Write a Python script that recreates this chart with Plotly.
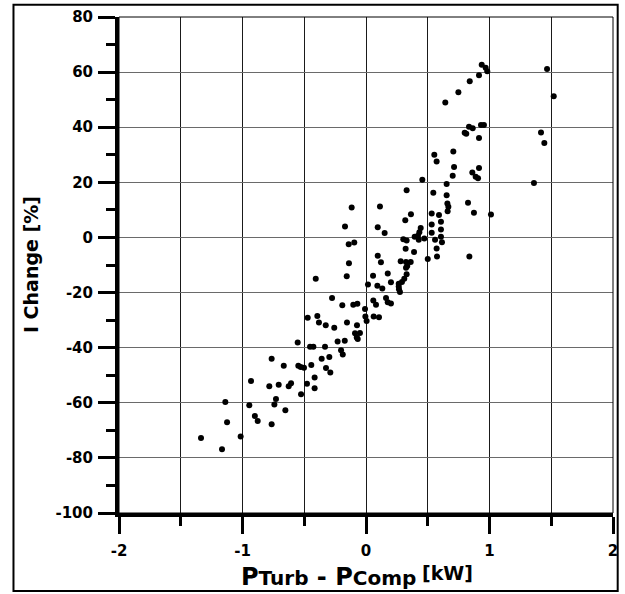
import plotly.graph_objects as go

# Power difference P_Turb - P_Comp [kW] and the corresponding I change [%]
p_diff_kw = [
    -1.336, -1.166, -1.139, -1.125, -1.015, -0.945, -0.931, -0.900, -0.877, -0.764,
    -0.783, -0.764, -0.742, -0.729, -0.707, -0.666, -0.653, -0.626, -0.607, -0.553,
    -0.548, -0.529, -0.502, -0.526, -0.478, -0.472, -0.453, -0.426, -0.443, -0.416,
    -0.416, -0.394, -0.381, -0.407, -0.359, -0.332, -0.326, -0.324, -0.297, -0.289,
    -0.275, -0.257, -0.230, -0.172, -0.202, -0.188, -0.192, -0.154, -0.156, -0.138,
    -0.170, -0.116, -0.095, -0.140, -0.103, -0.070, -0.073, -0.089, -0.049, -0.075,
    -0.067, -0.008, -0.005, 0.005, 0.016, 0.057, 0.059, 0.081, 0.062, 0.105,
    0.092, 0.132, 0.095, 0.121, 0.095, 0.151, 0.113, 0.162, 0.176, 0.202,
    0.176, 0.202, 0.265, 0.291, 0.310, 0.329, 0.265, 0.267, 0.275, 0.281,
    0.324, 0.362, 0.334, 0.324, 0.321, 0.389, 0.302, 0.329, 0.318, 0.364,
    0.329, 0.443, 0.432, 0.421, 0.394, 0.472, 0.427, 0.500, 0.456, 0.545,
    0.532, 0.591, 0.607, 0.532, 0.607, 0.532, 0.559, 0.607, 0.615, 0.572,
    0.575, 0.553, 0.572, 0.707, 0.713, 0.702, 0.653, 0.653, 0.659, 0.667,
    0.661, 0.826, 0.874, 1.012, 0.837, 0.861, 0.888, 0.907, 0.915, 0.834,
    0.864, 0.931, 0.955, 0.799, 0.812, 0.915, 0.642, 0.748, 0.840, 0.915,
    0.937, 0.969, 0.982, 1.466, 1.520, 1.417, 1.444, 1.360,
]
i_change_pct = [
    -72.8, -76.9, -59.7, -67.1, -72.2, -60.9, -52.1, -64.8, -66.6, -44.0,
    -54.0, -67.8, -60.6, -58.6, -53.5, -46.6, -62.7, -54.0, -52.9, -38.1,
    -46.6, -47.0, -47.3, -56.9, -53.1, -29.1, -39.7, -39.7, -46.3, -50.8,
    -54.7, -28.5, -30.9, -15.0, -44.0, -39.7, -31.9, -47.4, -43.4, -49.0,
    -22.0, -32.8, -37.8, -37.5, -40.9, -42.5, -24.6, -30.9, -14.1, -9.4,
    4.0, 10.9, -1.8, -2.5, -24.4, -24.1, -31.9, -34.8, -34.7, -36.3,
    -36.9, -26.0, -28.7, -30.3, -17.1, -13.9, -22.9, -24.4, -28.7, -29.0,
    -17.5, -18.5, -6.6, -9.0, 3.7, 1.6, 11.2, -22.0, -23.5, -24.0,
    -13.1, -16.3, -16.8, -16.2, -15.0, -13.4, -17.8, -18.8, -19.8, -8.6,
    -8.9, -8.9, -10.4, -11.0, -4.1, -5.3, -0.7, -1.1, 6.2, 8.4,
    17.1, 3.4, 1.9, 0.6, 0.25, -0.4, -0.8, -7.8, 20.9, 16.2,
    8.7, 8.1, 5.7, 4.7, 2.9, 1.7, -0.8, 0.25, -1.7, -4.0,
    -6.9, 30.0, 27.6, 31.2, 25.6, 22.4, 19.4, 15.3, 12.3, 11.1,
    9.5, 12.6, 9.0, 8.3, -6.9, 23.6, 22.0, 21.5, 25.2, 40.2,
    39.6, 40.8, 40.8, 38.0, 37.6, 36.1, 49.0, 52.7, 56.7, 58.9,
    62.7, 61.6, 60.3, 61.1, 51.2, 38.1, 34.3, 19.8,
]

# Axis tick positions and their labels (plain hyphen minus signs)
x_ticks = [-2, -1, 0, 1, 2]
x_tick_labels = ["-2", "-1", "0", "1", "2"]
y_ticks = [-100, -80, -60, -40, -20, 0, 20, 40, 60, 80]
y_tick_labels = ["-100", "-80", "-60", "-40", "-20", "0", "20", "40", "60", "80"]

FONT = "DejaVu Sans, Verdana, sans-serif"

fig = go.Figure(
    go.Scatter(
        x=p_diff_kw,
        y=i_change_pct,
        mode="markers",
        marker=dict(color="black", size=6, line=dict(width=0)),
        showlegend=False,
        hoverinfo="skip",
    )
)

axis_common = dict(
    showline=True,
    linecolor="black",
    linewidth=4,
    ticks="outside",
    ticklen=17,
    tickwidth=3,
    tickcolor="black",
    zeroline=False,
    showgrid=True,
    gridwidth=1,
    automargin=False,
    tickfont=dict(family=FONT, size=15, color="black"),
)

fig.update_xaxes(
    range=[-2, 2],
    tickvals=x_ticks,
    ticktext=[f"<b>{t}</b>" for t in x_tick_labels],
    gridcolor="#1a1a1a",
    ticklabelstandoff=4,
    minor=dict(dtick=0.5, ticks="outside", ticklen=9, tickwidth=3,
               tickcolor="black", showgrid=True, gridcolor="#1a1a1a", gridwidth=1),
    **axis_common,
)
fig.update_yaxes(
    range=[-100, 80],
    tickvals=y_ticks,
    ticktext=[f"<b>{t}</b>" for t in y_tick_labels],
    gridcolor="#6a6a6a",
    ticklabelstandoff=2,
    minor=dict(dtick=10, ticks="outside", ticklen=9, tickwidth=3,
               tickcolor="black", showgrid=False),
    **axis_common,
)

shapes = [
    # thin frame on the top and right of the plotting area
    dict(type="rect", xref="paper", yref="paper", x0=0, x1=1, y0=0, y1=1,
         line=dict(color="black", width=1), layer="above"),
    # outer border of the whole figure
    dict(type="rect", xref="paper", yref="paper",
         x0=-0.2136, x1=1.0095, y0=-0.1575, y1=1.0245,
         line=dict(color="black", width=2)),
]

annotations = [
    dict(
        text="<b>I Change [%]</b>",
        xref="paper", yref="paper", x=-0.178, y=0.5,
        textangle=-90, showarrow=False, xanchor="center", yanchor="middle",
        font=dict(family=FONT, size=19, color="black"),
    ),
    dict(
        text="<b>P<span style='font-size:20px'>Turb</span> - P"
             "<span style='font-size:20px'>Comp</span></b>",
        xref="paper", yref="paper", x=0.243, y=-0.129,
        showarrow=False, xanchor="left", yanchor="middle",
        font=dict(family=FONT, size=24, color="black"),
    ),
    dict(
        text="<b>[kW]</b>",
        xref="paper", yref="paper", x=0.609, y=-0.12,
        showarrow=False, xanchor="left", yanchor="middle",
        font=dict(family=FONT, size=19, color="black"),
    ),
]

fig.update_layout(
    width=625,
    height=594,
    margin=dict(l=119, r=12, t=17, b=81),
    paper_bgcolor="white",
    plot_bgcolor="white",
    shapes=shapes,
    annotations=annotations,
    font=dict(family=FONT, color="black"),
)

fig.write_html("out.html")
